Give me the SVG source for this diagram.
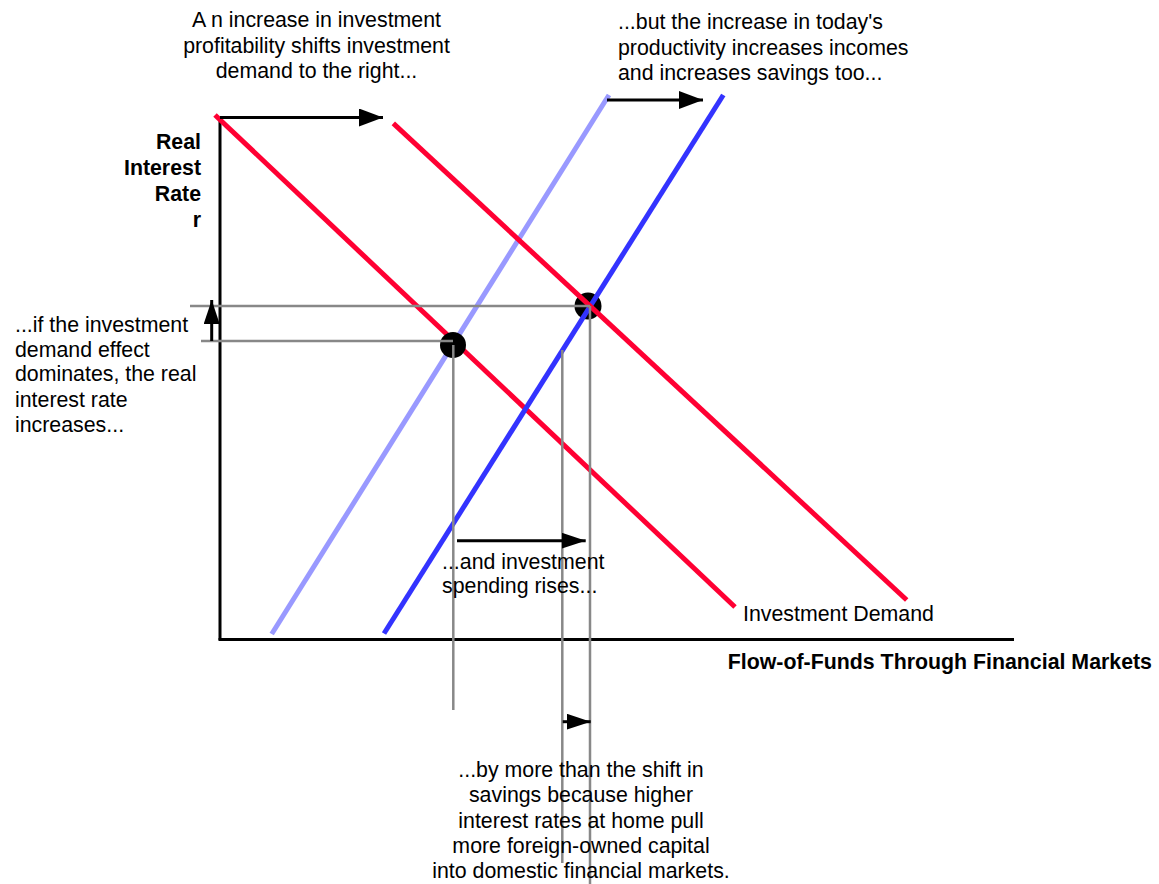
<svg xmlns="http://www.w3.org/2000/svg" width="1159" height="884" viewBox="0 0 1159 884">
<defs>
<marker id="ah" markerUnits="userSpaceOnUse" markerWidth="24" markerHeight="18" refX="24" refY="9" orient="auto">
<path d="M0,0 L24,9 L0,18 Z" fill="#000"/>
</marker>
<marker id="ahs" markerUnits="userSpaceOnUse" markerWidth="24" markerHeight="16" refX="24" refY="8" orient="auto">
<path d="M0,0 L24,8 L0,16 Z" fill="#000"/>
</marker>
</defs>
<style>
text{font-family:"Liberation Sans",Arial,sans-serif;font-size:21.33px;fill:#000}
.b{font-weight:bold}
.red{stroke:#ff0033;stroke-width:5;fill:none}
.lb{stroke:#9999ff;stroke-width:5;fill:none}
.db{stroke:#3333ff;stroke-width:5;fill:none}
.ax{stroke:#000;stroke-width:3;fill:none}
.gr{stroke:#888;stroke-width:2.5;fill:none}
.ar{stroke:#000;stroke-width:3;fill:none;marker-end:url(#ah)}
.ars{stroke:#000;stroke-width:3;fill:none;marker-end:url(#ahs)}
</style>
<rect width="1159" height="884" fill="#fff"/>
<g id="axes">
<line class="ax" x1="220" y1="117" x2="220" y2="640"/>
<line class="ax" x1="218.5" y1="639.5" x2="1014" y2="639.5"/>
</g>
<g id="curves">
<line id="invest-demand-old" class="red" x1="215" y1="115" x2="735" y2="607"/>
<line id="savings-old" class="lb" x1="609" y1="95" x2="271.7" y2="634"/>
<g id="eq1"><circle cx="453" cy="345" r="13" fill="#000"/></g>
<g id="eq2"><circle cx="588" cy="306" r="13.5" fill="#000"/></g>
<line id="savings-new" class="db" x1="723.3" y1="95" x2="384" y2="633.5"/>
<line id="invest-demand-new" class="red" x1="393.3" y1="123.3" x2="906.7" y2="600"/>
</g>
<g id="connectors">
<line class="gr" x1="190" y1="306" x2="590" y2="306"/>
<line class="gr" x1="201" y1="341" x2="453" y2="341"/>
<line class="gr" x1="453.3" y1="345" x2="453.3" y2="710"/>
<line class="gr" x1="562.3" y1="350" x2="562.3" y2="863"/>
<line class="gr" x1="590" y1="306" x2="590" y2="884"/>
<line class="ar" x1="220" y1="117.5" x2="383" y2="117.5"/>
<line class="ar" x1="607" y1="100" x2="703" y2="100"/>
<line class="ars" x1="211.7" y1="341" x2="211.7" y2="300"/>
<line class="ars" x1="457" y1="540.7" x2="585.7" y2="540.7"/>
<line class="ars" x1="562.7" y1="721.7" x2="590.7" y2="721.7"/>
</g>
<g id="label-top-left">
<text x="316.5" y="27" text-anchor="middle">A n increase in investment</text>
<text x="316.5" y="53" text-anchor="middle">profitability shifts investment</text>
<text x="316.5" y="78" text-anchor="middle">demand to the right...</text>
</g>
<g id="label-top-right">
<text x="618" y="29">...but the increase in today's</text>
<text x="618" y="54.5">productivity increases incomes</text>
<text x="618" y="80">and increases savings too...</text>
</g>
<g id="label-y-axis">
<text class="b" x="201" y="149" text-anchor="end">Real</text>
<text class="b" x="201" y="175" text-anchor="end">Interest</text>
<text class="b" x="201" y="201" text-anchor="end">Rate</text>
<text class="b" x="201" y="227" text-anchor="end">r</text>
</g>
<g id="label-left">
<text x="15" y="332">...if the investment</text>
<text x="15" y="357">demand effect</text>
<text x="15" y="381">dominates, the real</text>
<text x="15" y="407">interest rate</text>
<text x="15" y="432">increases...</text>
</g>
<g id="label-middle">
<text x="442" y="569">...and investment</text>
<text x="442" y="593">spending rises...</text>
</g>
<g id="label-demand">
<text x="743" y="621">Investment Demand</text>
</g>
<g id="label-x-axis">
<text class="b" x="1152" y="669" text-anchor="end">Flow-of-Funds Through Financial Markets</text>
</g>
<g id="label-bottom">
<text x="581" y="777" text-anchor="middle">...by more than the shift in</text>
<text x="581" y="802" text-anchor="middle">savings because higher</text>
<text x="581" y="828" text-anchor="middle">interest rates at home pull</text>
<text x="581" y="853" text-anchor="middle">more foreign-owned capital</text>
<text x="581" y="878" text-anchor="middle">into domestic financial markets.</text>
</g>
</svg>
